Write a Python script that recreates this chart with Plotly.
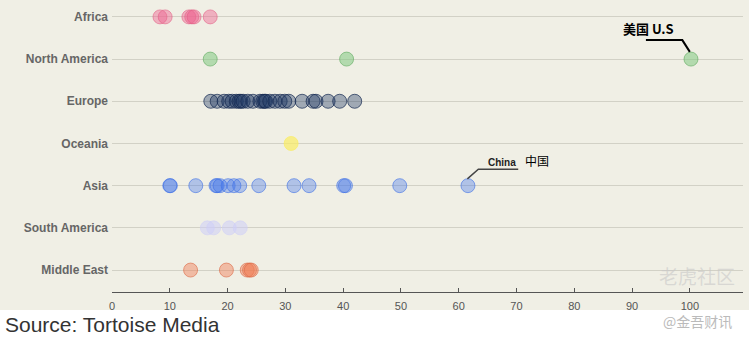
import plotly.graph_objects as go

categories = ["Middle East", "South America", "Asia", "Oceania", "Europe", "North America", "Africa"]

africa = [8.3, 9.2, 13.3, 13.8, 14.2, 17.0]
north_america = [17.0, 40.6, 100.2]
europe = [17.1, 18.2, 19.4, 20.2, 20.8, 21.5, 22.0, 22.3, 22.7, 23.5, 24.4, 25.6, 26.1, 26.4,
          26.6, 27.3, 28.2, 29.1, 29.9, 30.6, 32.9, 34.8, 35.3, 37.4, 39.4, 42.0]
oceania = [31.0]
asia = [10.0, 10.1, 14.5, 18.0, 18.2, 18.7, 20.1, 21.1, 22.1, 25.4, 31.5, 34.1, 40.1, 40.4, 49.8, 61.6]
south_america = [16.5, 17.6, 20.3, 22.2]
middle_east = [13.6, 19.8, 23.4, 23.8, 24.1]

x_ticks = [0, 10, 20, 30, 40, 50, 60, 70, 80, 90, 100]

series = [
    ("Africa", africa, "rgba(238,100,145,0.45)", "rgba(225,90,130,0.55)"),
    ("North America", north_america, "rgba(130,200,130,0.55)", "rgba(95,170,95,0.6)"),
    ("Europe", europe, "rgba(30,55,100,0.38)", "rgba(20,40,80,0.7)"),
    ("Oceania", oceania, "rgba(250,236,100,0.7)", "rgba(250,236,100,0.7)"),
    ("Asia", asia, "rgba(70,120,235,0.38)", "rgba(60,110,230,0.6)"),
    ("South America", south_america, "rgba(205,205,248,0.55)", "rgba(205,205,248,0.55)"),
    ("Middle East", middle_east, "rgba(240,125,85,0.45)", "rgba(220,105,70,0.6)"),
]

fig = go.Figure()
for name, vals, fill, line in series:
    yi = categories.index(name)
    fig.add_trace(go.Scatter(
        x=vals, y=[yi] * len(vals), mode="markers", name=name,
        marker=dict(size=14, color=fill, line=dict(color=line, width=1)),
        showlegend=False, hoverinfo="x+name"))

# beige background panel
fig.add_shape(type="rect", xref="paper", yref="paper", x0=-0.2, x1=1.02, y0=-0.062, y1=1.0,
              fillcolor="#F0EFE5", line=dict(width=0), layer="below")

# leader lines (relative to data points)
us_x = north_america[-1]
us_y = categories.index("North America")
fig.add_shape(type="path", xref="x", yref="y",
              path=f"M {us_x-0.2},{us_y+0.17} L {us_x-1.5},{us_y+0.45} L {us_x-7.8},{us_y+0.45}",
              line=dict(color="black", width=2))
fig.add_annotation(x=us_x - 7.3, y=us_y + 0.73, xref="x", yref="y", text="<b>美国 U.S</b>",
                   showarrow=False, font=dict(size=13, color="black", family="Noto Sans CJK SC"))

cn_x = asia[-1]
cn_y = categories.index("Asia")
fig.add_shape(type="path", xref="x", yref="y",
              path=f"M {cn_x-0.1},{cn_y+0.16} L {cn_x+1.8},{cn_y+0.39} L {cn_x+8.7},{cn_y+0.39}",
              line=dict(color="#444", width=1.5))
fig.add_annotation(x=cn_x + 5.9, y=cn_y + 0.56, xref="x", yref="y", text="<b>China</b>",
                   showarrow=False, font=dict(size=10, color="#222", family="Liberation Sans"))
fig.add_annotation(x=cn_x + 11.9, y=cn_y + 0.60, xref="x", yref="y", text="中国",
                   showarrow=False, font=dict(size=12, color="black", family="Noto Sans CJK SC"))

# source + watermarks
fig.add_annotation(x=-0.172, y=-0.11, xref="paper", yref="paper", text="Source: Tortoise Media",
                   showarrow=False, xanchor="left", yanchor="middle",
                   font=dict(size=21, color="#333", family="Liberation Sans"))
fig.add_annotation(x=0.986, y=-0.1, xref="paper", yref="paper", text="@金吾财讯",
                   showarrow=False, xanchor="right", yanchor="middle",
                   font=dict(size=14, color="#bbbbbb", family="Noto Sans CJK SC"))
fig.add_annotation(x=0.99, y=0.055, xref="paper", yref="paper", text="老虎社区",
                   showarrow=False, xanchor="right", yanchor="middle",
                   font=dict(size=19, color="rgba(200,200,200,0.6)", family="Noto Sans CJK SC"))

fig.update_layout(
    width=749, height=339,
    margin=dict(l=112, r=6, t=0, b=47),
    paper_bgcolor="white", plot_bgcolor="rgba(0,0,0,0)",
    xaxis=dict(range=[0, 109.2], tickvals=x_ticks, showgrid=False, zeroline=False,
               showline=True, linecolor="#555", linewidth=1, ticks="inside", ticklen=4,
               tickcolor="#555", ticklabelstandoff=4,
               tickfont=dict(size=11, color="#555", family="Liberation Sans")),
    yaxis=dict(range=[-0.52, 6.4], tickvals=list(range(len(categories))), ticktext=categories,
               showgrid=True, gridcolor="#D2D1C6", gridwidth=1, zeroline=False, showline=False,
               ticks="", ticklabelstandoff=3,
               tickfont=dict(size=12, color="#666", family="Liberation Sans", weight="bold")),
)

fig.write_html("out.html")
